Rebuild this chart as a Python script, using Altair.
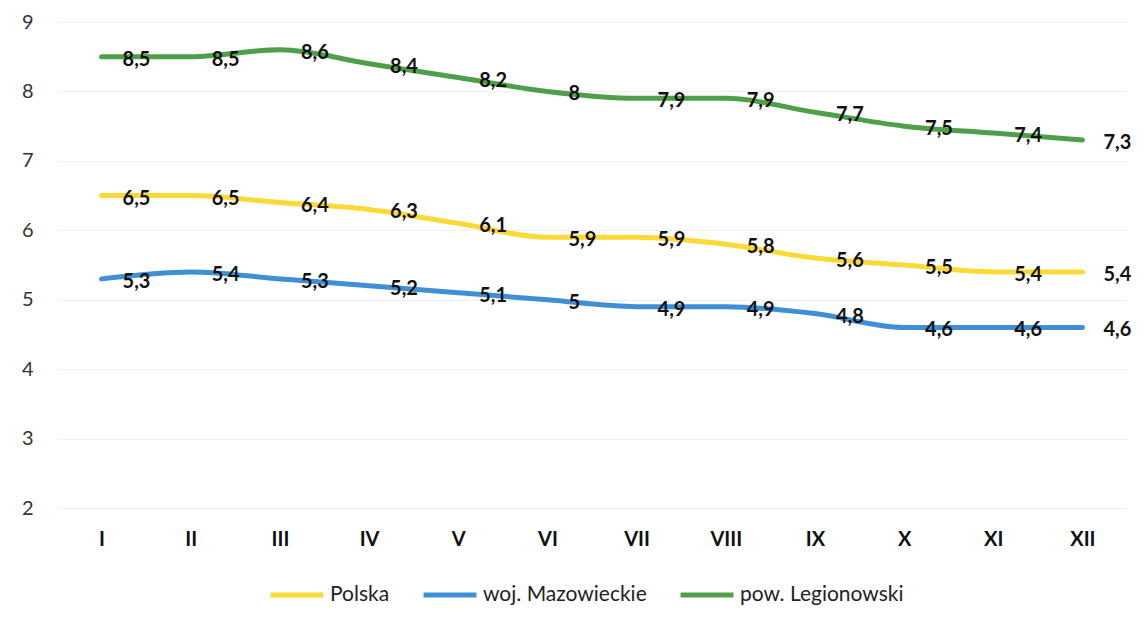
import altair as alt
import pandas as pd

months = ["I", "II", "III", "IV", "V", "VI", "VII", "VIII", "IX", "X", "XI", "XII"]
series_names = ["Polska", "woj. Mazowieckie", "pow. Legionowski"]
polska = [6.5, 6.5, 6.4, 6.3, 6.1, 5.9, 5.9, 5.8, 5.6, 5.5, 5.4, 5.4]
mazowieckie = [5.3, 5.4, 5.3, 5.2, 5.1, 5.0, 4.9, 4.9, 4.8, 4.6, 4.6, 4.6]
legionowski = [8.5, 8.5, 8.6, 8.4, 8.2, 8.0, 7.9, 7.9, 7.7, 7.5, 7.4, 7.3]
colors = ["#FCD934", "#3F8FD6", "#4E9F49"]
y_ticks = [2, 3, 4, 5, 6, 7, 8, 9]

rows = []
for name, vals in zip(series_names, [polska, mazowieckie, legionowski]):
    for m, v in zip(months, vals):
        rows.append({"month": m, "series": name, "value": v})
df = pd.DataFrame(rows)

FONT = "Lato"

x_enc = alt.X("month:N", sort=months, title=None,
              scale=alt.Scale(type="point", padding=0.5),
              axis=alt.Axis(labelFont=FONT, labelFontSize=20, labelFontWeight="bold",
                            labelColor="#111111", labelPadding=21, ticks=False,
                            domain=False, grid=False, labelAngle=0))
y_enc = alt.Y("value:Q", title=None,
              scale=alt.Scale(domain=[2, 9], nice=False, zero=False),
              axis=alt.Axis(values=y_ticks, format="d", labelFont=FONT, labelFontSize=20,
                            labelColor="#333333", labelPadding=24, ticks=False,
                            domain=False, grid=True, gridColor="#f3eeee",
                            gridWidth=1))

color_enc = alt.Color("series:N", title=None,
                      scale=alt.Scale(domain=series_names, range=colors),
                      legend=alt.Legend(orient="none", direction="horizontal",
                                        legendX=211, legendY=544,
                                        symbolType="stroke", symbolSize=2800,
                                        symbolStrokeWidth=5, labelFont=FONT,
                                        labelFontSize=21, labelColor="#222222",
                                        labelOffset=4, columnPadding=23,
                                        labelLimit=400))

base = alt.Chart(df)

lines = base.mark_line(strokeWidth=5, strokeCap="round", interpolate="monotone").encode(
    x=x_enc, y=y_enc, color=color_enc
)

labels = base.transform_calculate(
    lab="replace(format(datum.value, '.1~f'), '.', ',')"
).mark_text(font=FONT, fontSize=20, fontWeight="bold", align="left",
            baseline="middle", dx=21, dy=3, color="#111111").encode(
    x=alt.X("month:N", sort=months), y=alt.Y("value:Q"), text="lab:N"
)

chart = alt.layer(lines, labels).properties(
    width=1070, height=486,
    autosize=alt.AutoSizeParams(type="none"),
    padding={"left": 49, "top": 14, "right": 10, "bottom": 105}
).configure(background="white").configure_view(stroke=None)

chart.save("out.html", embed_options={"renderer": "svg", "actions": False})
